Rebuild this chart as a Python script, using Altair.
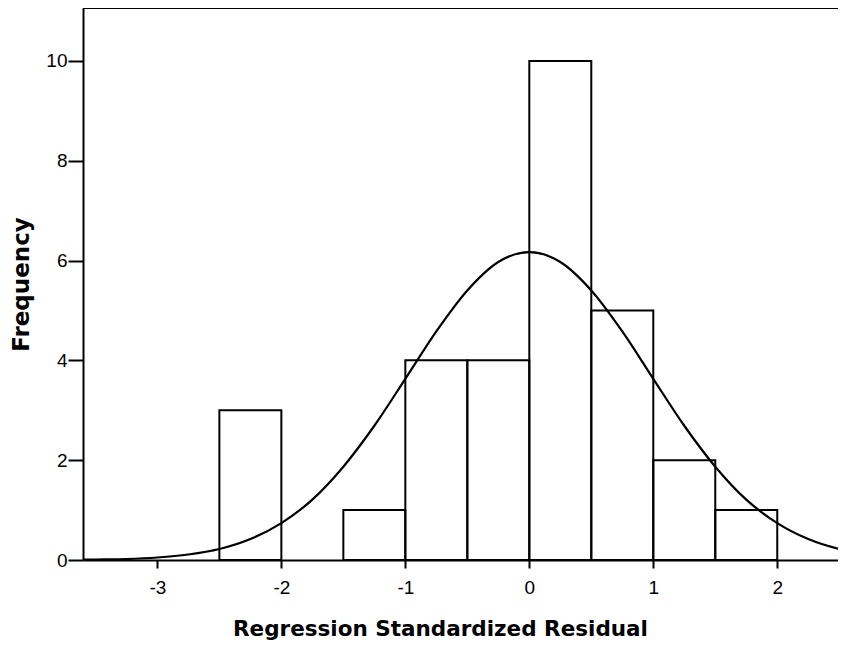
import altair as alt
import pandas as pd

# Histogram bins (Regression Standardized Residual), frequency per bin
bin_start = [-2.5, -2.0, -1.5, -1.0, -0.5, 0.0, 0.5, 1.0, 1.5]
bin_end = [-2.0, -1.5, -1.0, -0.5, 0.0, 0.5, 1.0, 1.5, 2.0]
counts = [3, 0, 1, 4, 4, 10, 5, 2, 1]

# Normal curve
curve_x = [-3.75, -3.5, -3.25, -3.0, -2.75, -2.5, -2.25, -2.0, -1.75, -1.5, -1.25,
           -1.0, -0.75, -0.5, -0.25, 0.0, 0.25, 0.5, 0.75, 1.0, 1.25, 1.5, 1.75,
           2.0, 2.25, 2.5, 2.75]
curve_y = [0.0, 0.01, 0.02, 0.05, 0.11, 0.22, 0.42, 0.74, 1.21, 1.87, 2.69,
           3.63, 4.58, 5.40, 5.97, 6.17, 5.97, 5.40, 4.58, 3.63, 2.69, 1.87, 1.21,
           0.74, 0.42, 0.22, 0.11]

x_ticks = [-3, -2, -1, 0, 1, 2]
y_ticks = [0, 2, 4, 6, 8, 10]

W, H = 755, 552
FONT = "Liberation Sans"
TFONT = "DejaVu Sans"

bins = pd.DataFrame({"start": bin_start, "end": bin_end, "count": counts})
bins = bins[bins["count"] > 0]
curve = pd.DataFrame({"x": curve_x, "y": curve_y})

xscale = alt.Scale(domain=[-3.6, 2.49], nice=False, zero=False)
yscale = alt.Scale(domain=[0, 11.06], nice=False)

xaxis = alt.Axis(values=x_ticks, title="Regression Standardized Residual", grid=False,
                 labelExpr="'' + datum.value",
                 tickSize=8, tickWidth=2, tickColor="black", domainColor="black",
                 domainWidth=2, labelPadding=10, labelFontSize=19, labelFont=FONT,
                 labelColor="black", titleFont=TFONT, titleFontSize=21.5,
                 titleFontWeight="bold", titleColor="black", titlePadding=21,
                 titleX=357, titleAlign="center", labelFlush=False)
yaxis = alt.Axis(values=y_ticks, title="Frequency", grid=False,
                 labelExpr="'' + datum.value",
                 tickSize=15, tickWidth=2, tickColor="black", domainColor="black",
                 domainWidth=2, labelPadding=1, labelFontSize=19, labelFont=FONT,
                 labelColor="black", titleFont=TFONT, titleFontSize=23,
                 titleFontWeight="bold", titleColor="black", titlePadding=12,
                 labelFlush=False)

bars = alt.Chart(bins).mark_bar(filled=False, stroke="black", strokeWidth=2).encode(
    x=alt.X("start:Q", scale=xscale, axis=xaxis),
    x2="end:Q",
    y=alt.Y("count:Q", scale=yscale, axis=yaxis),
    y2=alt.datum(0),
)

line = alt.Chart(curve).mark_line(color="black", strokeWidth=2.2,
                                   interpolate="monotone", clip=True).encode(
    x=alt.X("x:Q", scale=xscale),
    y=alt.Y("y:Q", scale=yscale),
)

top = alt.Chart(bins).mark_rule(color="black", strokeWidth=2).encode(
    x=alt.value(0), x2=alt.value(W), y=alt.value(0)
)

chart = alt.layer(bars, line, top).properties(
    width=W, height=H,
    padding={"left": 75, "top": 0, "right": 0, "bottom": 82},
    autosize=alt.AutoSizeParams(type="none"),
    background="white",
).configure_view(strokeWidth=0)

chart.save("out.html", embed_options={"renderer": "svg", "actions": False})
